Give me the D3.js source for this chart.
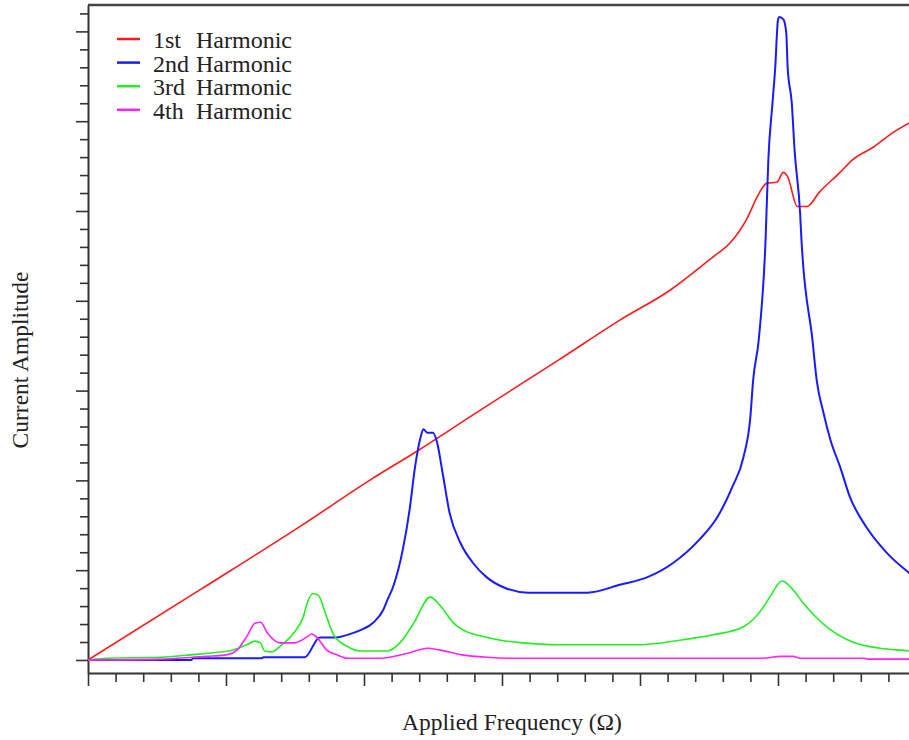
<!DOCTYPE html>
<html>
<head>
<meta charset="utf-8">
<script src="https://cdn.jsdelivr.net/npm/d3@7/dist/d3.min.js"></script>
<style>
  html, body { margin: 0; padding: 0; background: #ffffff; }
  svg { display: block; }
  text { font-family: "Liberation Serif", "Times New Roman", serif; fill: #222; }
</style>
</head>
<body>
<div id="chart"></div>
<script>
// Harmonic current amplitudes versus applied frequency, [frequency, amplitude]
const firstHarmonic = [
  [0, 0], [0.81, 0.78], [1.54, 1.49], [2.04, 2.00], [2.41, 2.35], [2.84, 2.78],
  [3.42, 3.35], [3.86, 3.79], [4.22, 4.12], [4.53, 4.49], [4.65, 4.64], [4.78, 4.93],
  [4.85, 5.16], [4.92, 5.31], [4.99, 5.32], [5.04, 5.43], [5.07, 5.38], [5.14, 5.05],
  [5.21, 5.05], [5.30, 5.21], [5.45, 5.43], [5.54, 5.57], [5.69, 5.71], [5.83, 5.87],
  [6.0, 6.02]
];
const secondHarmonic = [
  [0, 0], [0.52, 0], [0.75, 0], [0.76, 0.02], [1.26, 0.02], [1.27, 0.03], [1.57, 0.03],
  [1.68, 0.25], [1.80, 0.25], [1.88, 0.28], [1.97, 0.33], [2.07, 0.42], [2.14, 0.56],
  [2.17, 0.67], [2.21, 0.81], [2.28, 1.22], [2.33, 1.67], [2.37, 2.15], [2.41, 2.48],
  [2.43, 2.57], [2.46, 2.53], [2.50, 2.53], [2.53, 2.42], [2.57, 2.08], [2.62, 1.64],
  [2.70, 1.30], [2.79, 1.08], [2.89, 0.92], [3.01, 0.81], [3.19, 0.75], [3.62, 0.75],
  [3.86, 0.84], [4.05, 0.92], [4.24, 1.08], [4.43, 1.34], [4.56, 1.59], [4.67, 1.93],
  [4.75, 2.26], [4.80, 2.71], [4.82, 3.12], [4.86, 3.56], [4.91, 4.68], [4.93, 5.57],
  [4.96, 6.20], [4.98, 6.60], [5.00, 7.13], [5.01, 7.16], [5.04, 7.13], [5.06, 6.98],
  [5.07, 6.60], [5.10, 6.20], [5.12, 5.68], [5.16, 4.98], [5.17, 4.68], [5.25, 3.56],
  [5.28, 3.12], [5.33, 2.75], [5.38, 2.45], [5.45, 2.15], [5.52, 1.82], [5.64, 1.48],
  [5.79, 1.19], [5.95, 0.97], [6.0, 0.91]
];
const thirdHarmonic = [
  [0, 0], [0.14, 0.02], [0.52, 0.03], [0.76, 0.06], [0.91, 0.08], [1.05, 0.11],
  [1.15, 0.17], [1.21, 0.21], [1.25, 0.19], [1.28, 0.10], [1.33, 0.09], [1.39, 0.15],
  [1.49, 0.30], [1.56, 0.48], [1.59, 0.64], [1.63, 0.74], [1.67, 0.72], [1.72, 0.52],
  [1.78, 0.28], [1.88, 0.15], [1.97, 0.10], [2.17, 0.10], [2.26, 0.19], [2.36, 0.41],
  [2.48, 0.70], [2.55, 0.61], [2.65, 0.41], [2.75, 0.31], [2.84, 0.27], [2.99, 0.22],
  [3.15, 0.19], [3.40, 0.17], [4.00, 0.17], [4.29, 0.22], [4.53, 0.28], [4.75, 0.37],
  [4.89, 0.58], [4.94, 0.70], [5.03, 0.88], [5.11, 0.78], [5.18, 0.64], [5.36, 0.36],
  [5.54, 0.20], [5.74, 0.13], [5.95, 0.10], [6.0, 0.09]
];
const fourthHarmonic = [
  [0, 0], [0.52, 0.01], [0.76, 0.03], [0.86, 0.04], [1.01, 0.06], [1.08, 0.11],
  [1.15, 0.26], [1.21, 0.41], [1.25, 0.42], [1.30, 0.30], [1.39, 0.19], [1.49, 0.19],
  [1.59, 0.26], [1.62, 0.29], [1.66, 0.25], [1.73, 0.11], [1.80, 0.06], [1.88, 0.02],
  [2.12, 0.02], [2.33, 0.08], [2.46, 0.13], [2.55, 0.11], [2.70, 0.06], [2.89, 0.03],
  [3.06, 0.02], [4.89, 0.02], [5.02, 0.04], [5.11, 0.04], [5.16, 0.02], [5.62, 0.02],
  [5.65, 0.01], [6.0, 0.01]
];

const seriesNames = ["1st", "2nd", "3rd", "4th"];
const seriesColors = ["#ff1a1a", "#1a1aff", "#22ee22", "#ff22ff"];
const seriesData = [firstHarmonic, secondHarmonic, thirdHarmonic, fourthHarmonic];

// Unlabelled ticks: minor every 0.2, major on whole units
const xTicks = d3.range(0, 5.81, 0.2).map(v => +v.toFixed(1));
const yTicks = d3.range(0, 7.21, 0.2).map(v => +v.toFixed(1));

const width = 909, height = 740;
const svg = d3.select("#chart").append("svg")
  .attr("width", width).attr("height", height);

const x = d3.scaleLinear().domain([0, 6]).range([88, 916]);
const y = d3.scaleLinear().domain([-0.145, 7.294]).range([673, 5]);

const isMajor = v => Math.abs(v - Math.round(v)) < 1e-6;

// x axis
const xAxis = svg.append("g")
  .attr("transform", `translate(0,${y(-0.145)})`)
  .call(d3.axisBottom(x).tickValues(xTicks).tickFormat("").tickSizeOuter(0));
xAxis.select(".domain").attr("stroke", "#333").attr("stroke-width", 2);
xAxis.selectAll(".tick line")
  .attr("stroke", "#333").attr("stroke-width", 1.6)
  .attr("y2", d => isMajor(d) ? 13 : 9);

// y axis
const yAxis = svg.append("g")
  .attr("transform", `translate(${x(0)},0)`)
  .call(d3.axisLeft(y).tickValues(yTicks).tickFormat("").tickSizeOuter(0));
yAxis.select(".domain").attr("stroke", "#333").attr("stroke-width", 2);
yAxis.selectAll(".tick line")
  .attr("stroke", "#333").attr("stroke-width", 1.6)
  .attr("x2", d => isMajor(d) ? -12 : -8);

// top frame line
svg.append("line")
  .attr("x1", x(0)).attr("x2", x(6))
  .attr("y1", y(7.294)).attr("y2", y(7.294))
  .attr("stroke", "#444").attr("stroke-width", 2.5);

// curves
const line = d3.line()
  .x(d => x(d[0])).y(d => y(d[1]))
  .curve(d3.curveMonotoneX);
svg.append("g").selectAll("path")
  .data(seriesData)
  .join("path")
  .attr("d", line)
  .attr("fill", "none")
  .attr("stroke", (d, i) => seriesColors[i])
  .attr("stroke-width", (d, i) => i === 1 ? 2 : 1.6)
  .attr("stroke-linejoin", "round");

// legend
const legend = svg.append("g");
seriesNames.forEach((name, i) => {
  const cy = 39 + i * 23.6;
  legend.append("line")
    .attr("x1", 117).attr("x2", 140).attr("y1", cy).attr("y2", cy)
    .attr("stroke", seriesColors[i]).attr("stroke-width", 2.5);
  const t = legend.append("text")
    .attr("y", cy + 9)
    .attr("font-size", 24);
  t.append("tspan").attr("x", 153).text(name + " ");
  t.append("tspan").attr("x", 196).text("Harmonic");
});

// axis titles
svg.append("text")
  .attr("x", 512).attr("y", 730)
  .attr("text-anchor", "middle")
  .attr("font-size", 23.5)
  .text("Applied Frequency (Ω)");

svg.append("text")
  .attr("transform", "translate(28,360) rotate(-90)")
  .attr("text-anchor", "middle")
  .attr("font-size", 23.5)
  .text("Current Amplitude");
</script>
</body>
</html>
